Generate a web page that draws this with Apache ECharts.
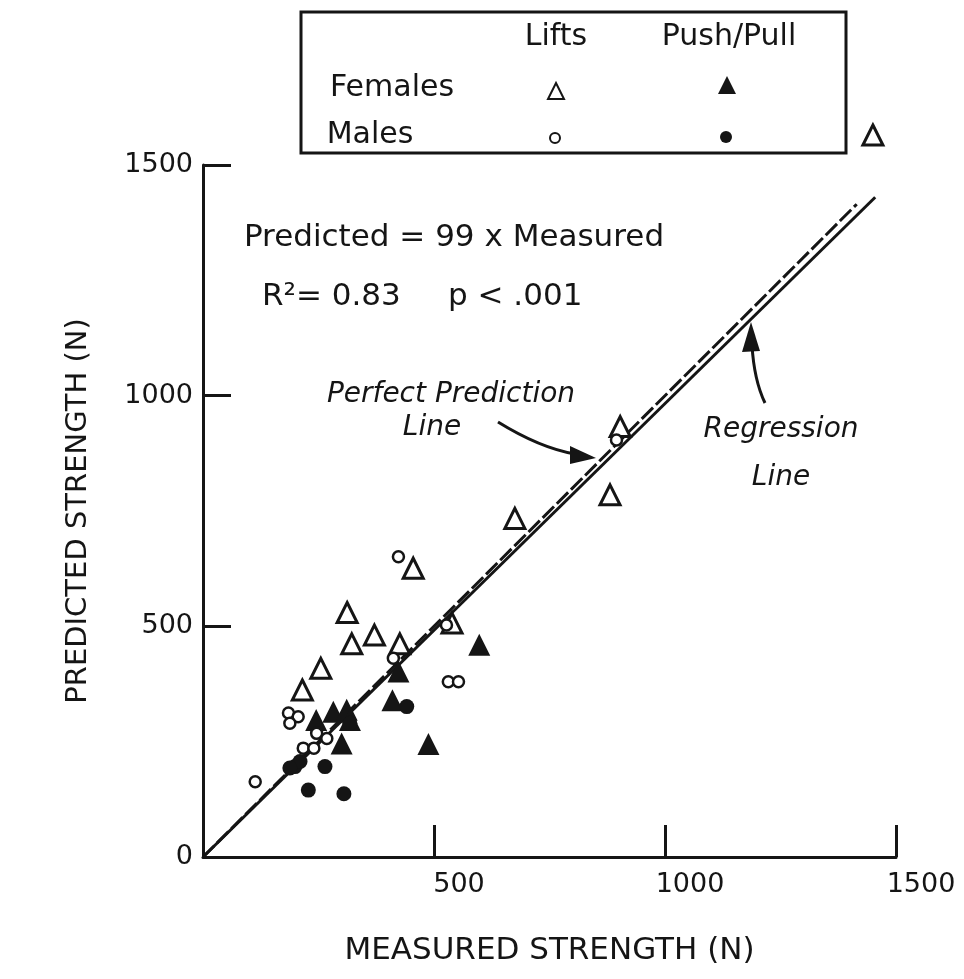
<!DOCTYPE html>
<html>
<head>
<meta charset="utf-8">
<title>Predicted vs Measured Strength</title>
<style>
  html, body { margin: 0; padding: 0; background: #fff; }
  #chart { width: 964px; height: 979px; }
</style>
</head>
<body>
<div id="chart"></div>
<script src="https://cdn.jsdelivr.net/npm/echarts@6/dist/echarts.min.js"></script>
<script>
// axis ticks
var xTicks = [0, 500, 1000, 1500];
var yTicks = [0, 500, 1000, 1500];

// measured, predicted (N)
var femalesLifts = [
  [455, 626], [312, 530], [371, 481], [322, 462], [426, 462], [255, 409],
  [215, 362], [539, 507], [675, 734], [881, 785], [903, 933], [1450, 1565]
];
var malesLifts = [
  [423, 651], [113, 163], [185, 312], [206, 304], [188, 290], [217, 236],
  [240, 236], [246, 268], [268, 257], [412, 431], [531, 380], [553, 380],
  [527, 503], [895, 904]
];
var femalesPushPull = [
  [598, 460], [423, 402], [410, 340], [488, 245], [300, 246], [245, 297],
  [282, 315], [311, 319], [318, 297]
];
var malesPushPull = [
  [441, 326], [264, 196], [228, 145], [305, 137], [199, 196], [210, 207],
  [188, 193], [318, 290]
];
var perfectLine = [[0, 0], [1415, 1415]];
var regressionLine = [[0, 0], [1455, 1430]];

var ink = '#151515';
var font = 'DejaVu Sans';

var chart = echarts.init(document.getElementById('chart'));

function legendCell(name, icon, size, left, top) {
  return {
    data: [{ name: name, icon: icon }],
    left: left, top: top, padding: 0,
    itemWidth: size, itemHeight: size,
    selectedMode: false,
    formatter: function () { return ''; }
  };
}

function txt(s, x, y, size, opts) {
  var style = { text: s, fontFamily: font, fontSize: size, fill: ink, textAlign: 'center', textVerticalAlign: 'middle' };
  for (var k in opts) style[k] = opts[k];
  return { type: 'text', x: x, y: y, style: style };
}

var option = {
  backgroundColor: '#fff',
  animation: false,
  grid: { left: 203, right: 68, top: 165, bottom: 122 },
  legend: [
    legendCell('Females Lifts', 'triangle', 16, 547, 82),
    legendCell('Males Lifts', 'circle', 10, 549, 132),
    legendCell('Females Push/Pull', 'triangle', 18, 718, 76),
    legendCell('Males Push/Pull', 'circle', 12, 720, 131)
  ],
  xAxis: {
    type: 'value', min: xTicks[0], max: xTicks[xTicks.length - 1], interval: 500,
    name: 'MEASURED STRENGTH (N)', nameLocation: 'middle', nameGap: 78,
    nameTextStyle: { fontFamily: font, fontSize: 31, color: ink },
    axisLine: { show: true, lineStyle: { color: ink, width: 3 } },
    axisTick: { show: true, inside: true, length: 32, lineStyle: { color: ink, width: 3 } },
    axisLabel: {
      showMinLabel: false, fontFamily: font, fontSize: 27, color: ink, margin: 14,
      padding: [0, 0, 0, 50],
      formatter: function (v) { return String(v); }
    },
    splitLine: { show: false }
  },
  yAxis: {
    type: 'value', min: yTicks[0], max: yTicks[yTicks.length - 1], interval: 500,
    name: 'PREDICTED STRENGTH (N)', nameLocation: 'middle', nameGap: 110, nameRotate: 90,
    nameTextStyle: { fontFamily: font, fontSize: 29, color: ink },
    axisLine: { show: true, lineStyle: { color: ink, width: 3 } },
    axisTick: { show: true, inside: true, length: 28, lineStyle: { color: ink, width: 3 } },
    axisLabel: {
      fontFamily: font, fontSize: 27, color: ink, margin: 10,
      formatter: function (v) { return String(v); }
    },
    splitLine: { show: false }
  },
  series: [
    {
      name: 'Perfect Prediction Line', type: 'line', data: perfectLine,
      symbol: 'none', z: 1,
      lineStyle: { color: ink, width: 3, type: [16, 4] }
    },
    {
      name: 'Regression Line', type: 'line', data: regressionLine,
      symbol: 'none', z: 1,
      lineStyle: { color: ink, width: 3 }
    },
    {
      name: 'Females Lifts', type: 'scatter', data: femalesLifts, clip: false,
      symbol: 'triangle', symbolSize: 20, z: 3,
      itemStyle: { color: '#fff', borderColor: ink, borderWidth: 3, opacity: 1 }
    },
    {
      name: 'Males Lifts', type: 'scatter', data: malesLifts,
      symbol: 'circle', symbolSize: 11, z: 3,
      itemStyle: { color: '#fff', borderColor: ink, borderWidth: 2.5, opacity: 1 }
    },
    {
      name: 'Females Push/Pull', type: 'scatter', data: femalesPushPull,
      symbol: 'triangle', symbolSize: 22, z: 2,
      itemStyle: { color: ink, opacity: 1 }
    },
    {
      name: 'Males Push/Pull', type: 'scatter', data: malesPushPull,
      symbol: 'circle', symbolSize: 15, z: 2,
      itemStyle: { color: ink, opacity: 1 }
    }
  ],
  graphic: [
    // legend frame and labels
    { type: 'rect', shape: { x: 301, y: 12, width: 545, height: 141 },
      style: { fill: 'none', stroke: ink, lineWidth: 3 } },
    txt('Lifts', 556, 37, 30),
    txt('Push/Pull', 729, 37, 30),
    txt('Females', 392, 88, 30),
    txt('Males', 370, 135, 30),
    // equation
    txt('Predicted = 99 x Measured', 454, 238, 31),
    txt('R²= 0.83', 262, 297, 31, { textAlign: 'left' }),
    txt('p < .001', 448, 297, 31, { textAlign: 'left' }),
    // line annotations
    txt('Perfect Prediction', 451, 395, 28, { fontStyle: 'italic' }),
    txt('Line', 432, 428, 28, { fontStyle: 'italic' }),
    txt('Regression', 781, 430, 28, { fontStyle: 'italic' }),
    txt('Line', 781, 478, 28, { fontStyle: 'italic' }),
    // arrows
    { type: 'bezierCurve', shape: { x1: 498, y1: 422, x2: 575, y2: 454, cpx1: 540, cpy1: 448 },
      style: { stroke: ink, lineWidth: 3, fill: 'none' } },
    { type: 'polygon', shape: { points: [[596, 458], [570, 446], [570, 464]] }, style: { fill: ink } },
    { type: 'bezierCurve', shape: { x1: 765, y1: 403, x2: 752, y2: 345, cpx1: 754, cpy1: 380 },
      style: { stroke: ink, lineWidth: 3, fill: 'none' } },
    { type: 'polygon', shape: { points: [[751, 322], [742, 352], [760, 351]] }, style: { fill: ink } }
  ]
};

chart.setOption(option);
</script>
</body>
</html>
